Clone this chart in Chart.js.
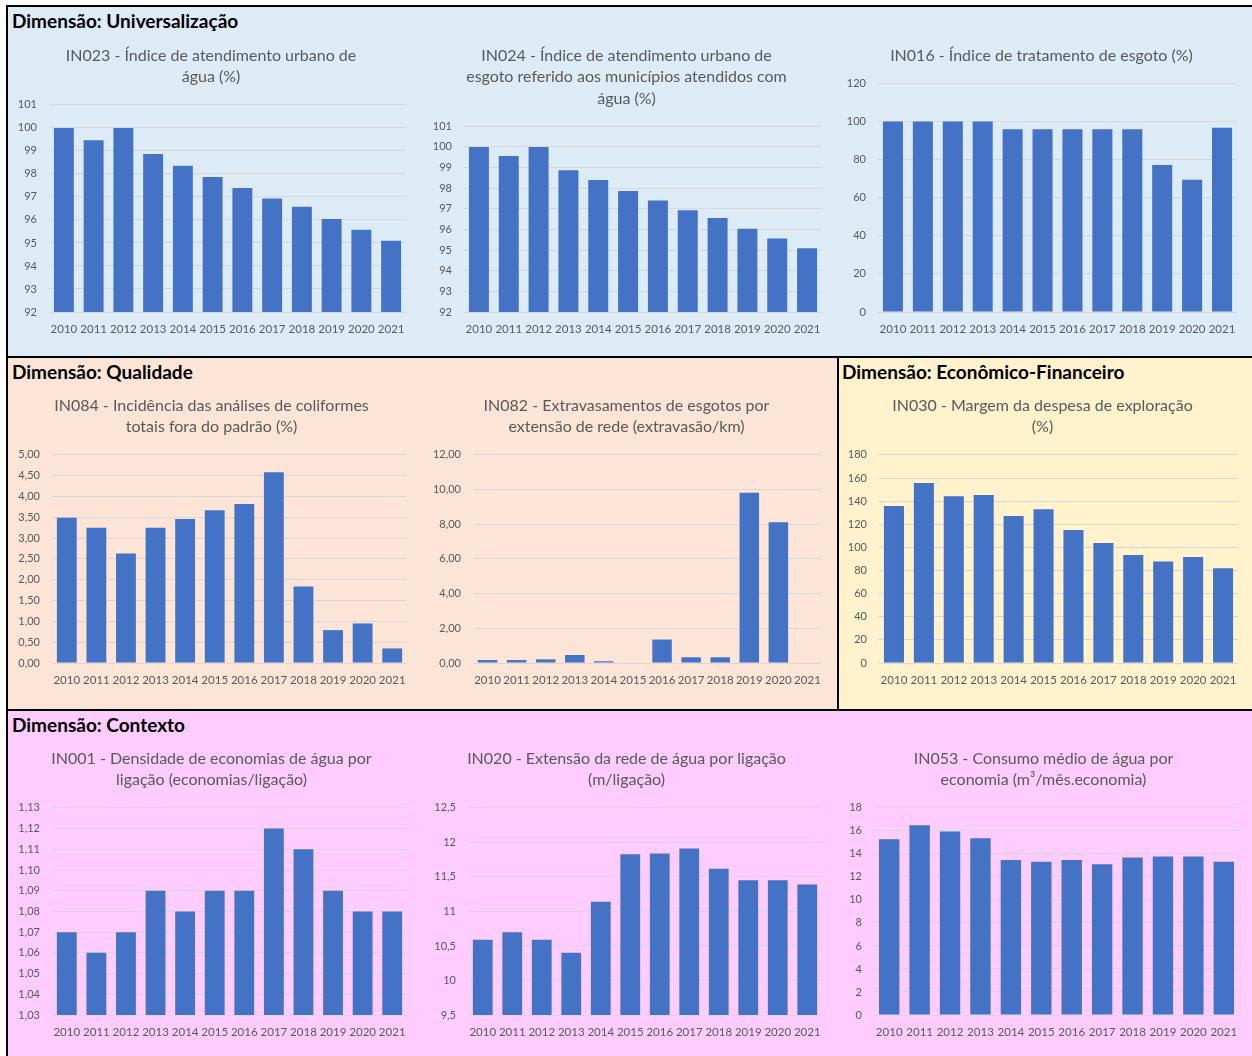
<!DOCTYPE html>
<html lang="pt-BR">
<head>
<meta charset="utf-8">
<title>Indicadores 2010-2021</title>
<script src="https://cdn.jsdelivr.net/npm/chart.js@4.4.1/dist/chart.umd.min.js"></script>
<style>
  body { margin: 0; width: 1252px; height: 1056px; background: #fff; position: relative; overflow: hidden; font-family: Lato, "Open Sans", sans-serif; }
  .panel { position: absolute; box-sizing: border-box; border: 2px solid #000; }
  .panel h2 { margin: 0; position: absolute; top: 4px; left: 4px; font-size: 19px; line-height: 20px; font-weight: bold; color: #000; white-space: nowrap; }
  canvas { position: absolute; }
</style>
</head>
<body>
<div class="panel" style="left:6px;top:5px;width:1252px;height:354px;background:#DDEBF7"><h2>Dimensão: Universalização</h2></div>
<div class="panel" style="left:6px;top:356px;width:833px;height:355px;background:#FCE4D6"><h2>Dimensão: Qualidade</h2></div>
<div class="panel" style="left:837px;top:356px;width:420px;height:355px;background:#FFF2CC"><h2 style="left:3px">Dimensão: Econômico-Financeiro</h2></div>
<div class="panel" style="left:6px;top:709px;width:1252px;height:352px;background:#FFCCFF"><h2>Dimensão: Contexto</h2></div>

<canvas id="c1" width="408" height="291" style="left:11px;top:45px"></canvas>
<canvas id="c2" width="408" height="291" style="left:427px;top:45px"></canvas>
<canvas id="c3" width="408" height="291" style="left:843px;top:45px"></canvas>
<canvas id="c4" width="408" height="292" style="left:11px;top:395px"></canvas>
<canvas id="c5" width="408" height="292" style="left:427px;top:395px"></canvas>
<canvas id="c6" width="408" height="292" style="left:843px;top:395px"></canvas>
<canvas id="c7" width="408" height="291" style="left:11px;top:748px"></canvas>
<canvas id="c8" width="408" height="291" style="left:427px;top:748px"></canvas>
<canvas id="c9" width="408" height="291" style="left:843px;top:748px"></canvas>

<script>
const years = ['2010', '2011', '2012', '2013', '2014', '2015', '2016', '2017', '2018', '2019', '2020', '2021'];

// Universalização
const in023 = [100, 99.46, 100, 98.87, 98.35, 97.87, 97.39, 96.93, 96.57, 96.04, 95.57, 95.1];
const in024 = [100, 99.56, 100, 98.87, 98.4, 97.87, 97.4, 96.93, 96.56, 96.03, 95.56, 95.09];
const in016 = [100, 100, 100, 100, 96, 96, 96, 96, 96, 77.2, 69.4, 96.7];

// Qualidade
const in084 = [3.49, 3.25, 2.63, 3.25, 3.46, 3.67, 3.82, 4.58, 1.84, 0.79, 0.95, 0.35];
const in082 = [0.17, 0.17, 0.21, 0.46, 0.1, null, 1.35, 0.33, 0.33, 9.82, 8.12, null];

// Econômico-Financeiro
const in030 = [135.7, 155.7, 144.3, 145.2, 127.2, 133, 115, 103.8, 93.3, 87.8, 91.6, 82];

// Contexto
const in001 = [1.07, 1.06, 1.07, 1.09, 1.08, 1.09, 1.09, 1.12, 1.11, 1.09, 1.08, 1.08];
const in020 = [10.59, 10.7, 10.59, 10.4, 11.14, 11.83, 11.84, 11.91, 11.62, 11.45, 11.45, 11.39];
const in053 = [15.28, 16.49, 15.94, 15.36, 13.48, 13.31, 13.48, 13.11, 13.69, 13.77, 13.77, 13.31];

const FONT = 'Lato, "Open Sans", sans-serif';
const GREY = '#595959';

// numbers with a comma, like the spreadsheet does
function fmt(v, dec) {
  if (dec == null) return String(Math.round(v * 100) / 100).replace('.', ',');
  return v.toFixed(dec).replace('.', ',');
}

function barChart(id, title, values, axis) {
  const ctx = document.getElementById(id).getContext('2d');
  return new Chart(ctx, {
    type: 'bar',
    data: {
      labels: years,
      datasets: [{
        data: values,
        backgroundColor: '#4472C4',
        barPercentage: 0.67,
        categoryPercentage: 1
      }]
    },
    options: {
      responsive: false,
      animation: false,
      devicePixelRatio: 1,
      layout: { padding: { left: axis.padL, right: axis.padR, top: 0, bottom: 0 } },
      plugins: {
        legend: { display: false },
        tooltip: { enabled: false },
        title: {
          display: true,
          text: title,
          color: GREY,
          font: { family: FONT, size: 16, weight: 'normal', lineHeight: 1.34 },
          padding: { top: 0, bottom: 17 }
        }
      },
      scales: {
        x: {
          grid: { display: false, drawTicks: false },
          border: { display: false },
          ticks: { color: GREY, font: { family: FONT, size: 11.5 }, padding: 10, maxRotation: 0, autoSkip: false },
          afterFit: (s) => { s.height = 24; }
        },
        y: {
          min: axis.min,
          max: axis.max,
          grid: { color: '#D9D9D9', drawTicks: false },
          border: { display: false },
          ticks: {
            stepSize: axis.step,
            color: GREY,
            font: { family: FONT, size: 11 },
            padding: 12,
            callback: (v) => fmt(v, axis.dec)
          },
          afterFit: (s) => { s.width = axis.yw; }
        }
      }
    }
  });
}

barChart('c1', ['IN023 - Índice de atendimento urbano de', 'água (%)'], in023,
  { min: 92, max: 101, step: 1, dec: 0, padL: 5, yw: 33, padR: 13 });
barChart('c2', ['IN024 - Índice de atendimento urbano de', 'esgoto referido aos municípios atendidos com', 'água (%)'], in024,
  { min: 92, max: 101, step: 1, dec: 0, padL: 4, yw: 33, padR: 13 });
barChart('c3', ['IN016 - Índice de tratamento de esgoto (%)'], in016,
  { min: 0, max: 120, step: 20, dec: 0, padL: 3, yw: 32, padR: 14 });

barChart('c4', ['IN084 - Incidência das análises de coliformes', 'totais fora do padrão (%)'], in084,
  { min: 0, max: 5, step: 0.5, dec: 2, padL: 5, yw: 36, padR: 12 });
barChart('c5', ['IN082 - Extravasamentos de esgotos por', 'extensão de rede (extravasão/km)'], in082,
  { min: 0, max: 12, step: 2, dec: 2, padL: 4, yw: 42, padR: 13 });
barChart('c6', ['IN030 - Margem da despesa de exploração', '(%)'], in030,
  { min: 0, max: 180, step: 20, dec: 0, padL: 4, yw: 32, padR: 13 });

barChart('c7', ['IN001 - Densidade de economias de água por', 'ligação (economias/ligação)'], in001,
  { min: 1.03, max: 1.13, step: 0.01, dec: 2, padL: 5, yw: 36, padR: 12 });
barChart('c8', ['IN020 - Extensão da rede de água por ligação', '(m/ligação)'], in020,
  { min: 9.5, max: 12.5, step: 0.5, dec: null, padL: 4, yw: 37, padR: 13 });
barChart('c9', ['IN053 - Consumo médio de água por', 'economia (m³/mês.economia)'], in053,
  { min: 0, max: 18, step: 2, dec: 0, padL: 5, yw: 26, padR: 12 });
</script>
</body>
</html>
